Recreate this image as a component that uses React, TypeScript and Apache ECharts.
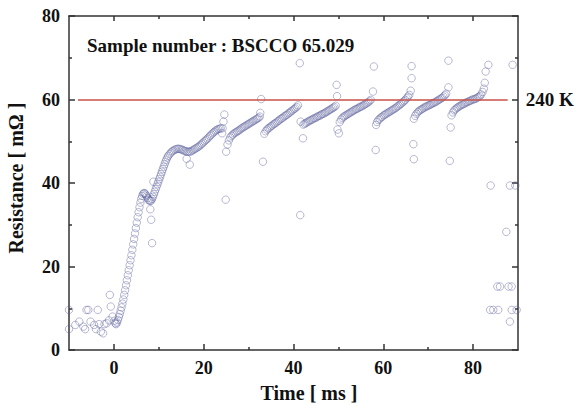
import React, { useEffect, useRef } from "react";
import * as echarts from "echarts";

// Time [ms], Resistance [mΩ]
const preTrigger: number[][] = [
  [-10, 9.6], [-10, 5.0], [-8.6, 6.0], [-7.7, 6.8], [-6.8, 5.6], [-6.4, 5.0], [-6.1, 9.6], [-5.7, 9.6],
  [-5.2, 6.8], [-4.4, 6.0], [-4.0, 5.0], [-3.6, 9.6], [-3.3, 6.2], [-2.9, 4.4], [-2.4, 4.0], [-2.1, 6.2],
  [-1.6, 6.4], [-1.1, 7.1], [-0.9, 13.2], [-0.7, 10.4], [-0.3, 8.0],
];
const riseSegment: number[][] = [
  [0.1, 7.0], [0.3, 6.4], [0.5, 6.2], [0.7, 6.6], [0.9, 7.2], [1.1, 7.9], [1.3, 8.6], [1.5, 9.4],
  [1.7, 10.2], [1.9, 11.1], [2.1, 12.1], [2.3, 13.2], [2.5, 14.3], [2.7, 15.5], [2.9, 16.7], [3.1, 17.9],
  [3.3, 19.1], [3.5, 20.3], [3.7, 21.5], [3.9, 22.7], [4.1, 24.0], [4.3, 25.3], [4.5, 26.6], [4.7, 27.9],
  [4.9, 29.2], [5.1, 30.5], [5.3, 31.8], [5.5, 33.0], [5.7, 34.2], [5.9, 35.3], [6.1, 36.2], [6.3, 36.9],
  [6.5, 37.4], [6.7, 37.6], [6.9, 37.5], [7.1, 37.2], [7.3, 36.8], [7.5, 36.4], [7.7, 36.0], [7.9, 35.8],
  [8.1, 35.7], [8.3, 35.8], [8.5, 36.2], [8.7, 36.7], [8.9, 37.3], [9.1, 37.9], [9.3, 38.5], [9.5, 39.1],
  [9.7, 39.7], [9.9, 40.3], [10.1, 40.9], [10.3, 41.5], [10.5, 42.1], [10.7, 42.7], [10.9, 43.3], [11.1, 43.9],
  [11.3, 44.5], [11.5, 45.1], [11.7, 45.6], [11.9, 46.1], [12.1, 46.5], [12.4, 46.9], [12.7, 47.3], [13.0, 47.6],
  [13.3, 47.8], [13.6, 48.0], [13.9, 48.1], [14.2, 48.2], [14.5, 48.2], [14.8, 48.1], [15.1, 48.0], [15.4, 47.9],
  [15.7, 47.7], [16.0, 47.6], [16.3, 47.5], [16.6, 47.5], [16.9, 47.5], [17.2, 47.6], [17.5, 47.8], [17.8, 48.0],
  [18.1, 48.2], [18.4, 48.4], [18.7, 48.6], [19.0, 48.8], [19.3, 49.1], [19.6, 49.4], [19.9, 49.7], [20.2, 50.0],
  [20.5, 50.3], [20.8, 50.6], [21.1, 50.9], [21.4, 51.3], [21.7, 51.6], [22.0, 51.9], [22.3, 52.2], [22.6, 52.5],
  [22.9, 52.7], [23.2, 52.9], [23.5, 53.0], [23.8, 53.1],
];
const tooth2: number[][] = [
  [25.3, 49.2], [25.6, 50.2], [25.9, 50.9], [26.2, 51.3], [26.5, 51.6], [26.8, 51.9], [27.1, 52.1], [27.4, 52.3],
  [27.7, 52.5], [28.0, 52.7], [28.3, 53.0], [28.6, 53.2], [28.9, 53.4], [29.2, 53.6], [29.5, 53.8], [29.8, 54.0],
  [30.1, 54.2], [30.4, 54.4], [30.7, 54.6], [31.0, 54.8], [31.3, 55.0], [31.6, 55.2], [31.9, 55.4], [32.2, 55.6],
  [32.5, 55.9],
];
const tooth3: number[][] = [
  [33.5, 51.8], [33.8, 52.4], [34.1, 52.8], [34.4, 53.1], [34.7, 53.3], [35.0, 53.6], [35.3, 53.8], [35.6, 54.1],
  [35.9, 54.3], [36.2, 54.5], [36.5, 54.8], [36.8, 55.0], [37.1, 55.3], [37.4, 55.5], [37.7, 55.7], [38.0, 56.0],
  [38.3, 56.2], [38.6, 56.4], [38.9, 56.7], [39.2, 56.9], [39.5, 57.2], [39.8, 57.4], [40.1, 57.7], [40.4, 57.9],
  [40.7, 58.2], [41.0, 58.6],
];
const tooth4: number[][] = [
  [42.2, 54.0], [42.5, 54.2], [42.8, 54.4], [43.1, 54.6], [43.4, 54.8], [43.7, 55.0], [44.0, 55.1], [44.3, 55.3],
  [44.6, 55.5], [44.9, 55.6], [45.2, 55.8], [45.5, 56.0], [45.8, 56.1], [46.1, 56.3], [46.4, 56.5], [46.7, 56.6],
  [47.0, 56.8], [47.3, 57.0], [47.6, 57.2], [47.9, 57.4], [48.2, 57.6], [48.5, 57.8], [48.8, 58.0], [49.1, 58.2],
  [49.4, 58.5],
];
const tooth5: number[][] = [
  [50.3, 54.6], [50.6, 55.2], [50.9, 55.6], [51.2, 55.9], [51.5, 56.1], [51.8, 56.3], [52.1, 56.5], [52.4, 56.7],
  [52.7, 56.9], [53.0, 57.1], [53.3, 57.3], [53.6, 57.5], [53.9, 57.7], [54.2, 57.8], [54.5, 58.0], [54.8, 58.2],
  [55.1, 58.3], [55.4, 58.5], [55.7, 58.7], [56.0, 58.9], [56.3, 59.1], [56.6, 59.3], [56.9, 59.6], [57.2, 59.9],
];
const tooth6: number[][] = [
  [58.4, 53.9], [58.6, 54.6], [58.9, 55.1], [59.2, 55.4], [59.5, 55.7], [59.8, 55.9], [60.1, 56.2], [60.4, 56.4],
  [60.7, 56.6], [61.0, 56.8], [61.3, 57.0], [61.6, 57.2], [61.9, 57.4], [62.2, 57.6], [62.5, 57.8], [62.8, 58.0],
  [63.1, 58.3], [63.4, 58.5], [63.7, 58.8], [64.0, 59.0], [64.3, 59.3], [64.6, 59.6], [64.9, 59.9], [65.2, 60.3],
  [65.5, 60.7], [65.8, 61.1],
];
const tooth7: number[][] = [
  [66.8, 55.4], [67.1, 56.1], [67.4, 56.6], [67.7, 57.0], [68.0, 57.3], [68.3, 57.5], [68.6, 57.7], [68.9, 57.9],
  [69.2, 58.1], [69.5, 58.3], [69.8, 58.4], [70.1, 58.6], [70.4, 58.7], [70.7, 58.9], [71.0, 59.1], [71.3, 59.2],
  [71.6, 59.4], [71.9, 59.6], [72.2, 59.8], [72.5, 60.0], [72.8, 60.2], [73.1, 60.4], [73.4, 60.7], [73.7, 61.0],
  [74.0, 61.4],
];
const tooth8: number[][] = [
  [75.2, 56.2], [75.5, 56.9], [75.8, 57.4], [76.1, 57.7], [76.4, 58.0], [76.7, 58.2], [77.0, 58.4], [77.3, 58.6],
  [77.6, 58.8], [77.9, 58.9], [78.2, 59.1], [78.5, 59.3], [78.8, 59.4], [79.1, 59.6], [79.4, 59.7], [79.7, 59.9],
  [80.0, 60.0], [80.3, 60.1], [80.6, 60.2], [80.9, 60.4], [81.2, 60.6], [81.5, 60.8], [81.8, 61.2], [82.1, 61.8],
  [82.4, 62.6], [82.6, 64.0], [82.8, 66.7], [83.4, 68.3],
];
const outliers: number[][] = [
  [8.1, 33.7], [8.3, 31.2], [8.5, 25.6], [8.8, 40.3], [16.2, 45.8], [16.9, 44.4],
  [24.1, 51.9], [24.2, 53.1], [24.4, 54.7], [24.6, 56.4], [25.0, 47.5], [24.9, 36.0],
  [32.8, 60.1], [32.6, 56.8], [33.2, 45.1],
  [41.4, 68.7], [41.6, 54.7], [42.1, 50.7], [41.5, 32.3],
  [49.6, 63.5], [49.7, 60.8], [49.8, 52.8], [50.1, 51.9],
  [57.9, 67.9], [57.7, 61.9], [58.3, 47.9],
  [66.3, 68.0], [66.3, 65.1], [66.1, 62.1], [66.7, 49.3], [66.8, 45.7],
  [74.5, 69.3], [74.5, 62.9], [75.0, 53.3], [74.8, 45.3],
];
const afterQuench: number[][] = [
  [83.9, 39.4], [88.8, 68.3], [88.2, 39.4], [89.4, 39.4], [87.4, 28.3],
  [85.4, 15.2], [86.0, 15.2], [87.9, 15.2], [88.6, 15.2],
  [83.8, 9.6], [84.5, 9.6], [85.6, 9.6], [88.6, 9.6], [89.7, 9.6], [88.2, 6.8],
];

const refLine: number[][] = [[-8, 60], [87.7, 60]];
const refLabel = "240 K";
const xMajorTicks = [0, 20, 40, 60, 80];
const xMinorTicks = [10, 30, 50, 70];
const sampleText = "Sample number : BSCCO 65.029";

const FONT = "'Liberation Serif', 'Times New Roman', serif";
const AXIS_COLOR = "#333";

export default function App() {
  const ref = useRef<HTMLDivElement>(null);
  useEffect(() => {
    if (!ref.current) return;
    const chart = echarts.init(ref.current, undefined, { renderer: "svg" });
    const allPoints = [
      ...preTrigger, ...riseSegment, ...tooth2, ...tooth3, ...tooth4, ...tooth5,
      ...tooth6, ...tooth7, ...tooth8, ...outliers, ...afterQuench,
    ];
    const lineStyle = { color: AXIS_COLOR, width: 1.5 };
    const labelStyle = { fontFamily: FONT, fontWeight: "bold" as const, fontSize: 18, color: "#111" };
    const xBase = { type: "value" as const, min: -10, max: 90, gridIndex: 0, splitLine: { show: false } };
    chart.setOption({
      animation: false,
      backgroundColor: "#fff",
      grid: { left: 69, right: 61, top: 16, bottom: 56, containLabel: false },
      xAxis: [
        {
          ...xBase, position: "bottom",
          axisLine: { show: true, onZero: false, lineStyle },
          axisTick: { show: true, inside: true, length: 6, customValues: xMajorTicks, lineStyle },
          axisLabel: { ...labelStyle, margin: 9, customValues: xMajorTicks },
        },
        {
          ...xBase, position: "bottom",
          axisLine: { show: false, onZero: false },
          axisTick: { show: true, inside: true, length: 3, customValues: xMinorTicks, lineStyle },
          axisLabel: { show: false },
        },
        {
          ...xBase, position: "top",
          axisLine: { show: true, onZero: false, lineStyle },
          axisTick: { show: true, inside: true, length: 5, customValues: xMajorTicks, lineStyle },
          axisLabel: { show: false },
        },
        {
          ...xBase, position: "top",
          axisLine: { show: false, onZero: false },
          axisTick: { show: true, inside: true, length: 3, customValues: xMinorTicks, lineStyle },
          axisLabel: { show: false },
        },
      ],
      yAxis: [
        {
          type: "value", min: 0, max: 80, interval: 20, position: "left",
          axisLine: { show: true, onZero: false, lineStyle },
          axisTick: { show: true, inside: true, length: 6, lineStyle },
          minorTick: { show: true, splitNumber: 2, length: 3, lineStyle },
          axisLabel: { ...labelStyle, margin: 9 },
          splitLine: { show: false },
          minorSplitLine: { show: false },
        },
        {
          type: "value", min: 0, max: 80, interval: 20, position: "right",
          axisLine: { show: true, onZero: false, lineStyle },
          axisTick: { show: true, inside: true, length: 6, lineStyle },
          minorTick: { show: true, splitNumber: 2, length: 3, lineStyle },
          axisLabel: { show: false },
          splitLine: { show: false },
          minorSplitLine: { show: false },
        },
      ],
      series: [
        {
          type: "scatter",
          xAxisIndex: 0,
          yAxisIndex: 0,
          symbol: "circle",
          symbolSize: 7.5,
          itemStyle: { color: "rgba(0,0,0,0)", borderColor: "rgba(90,95,155,0.55)", borderWidth: 1 },
          data: allPoints,
          markLine: {
            silent: true,
            symbol: "none",
            lineStyle: { color: "#c8504a", width: 1.5, type: "solid" },
            label: {
              show: true, position: "end", formatter: refLabel, distance: 18,
              fontFamily: FONT, fontWeight: "bold", fontSize: 19, color: "#111",
            },
            data: [[{ coord: refLine[0] }, { coord: refLine[1] }]],
          },
        },
      ],
      graphic: [
        {
          type: "text", x: 87, y: 45,
          style: { text: sampleText, font: `bold 19px ${FONT}`, fill: "#111", textVerticalAlign: "middle", textAlign: "left" },
        },
        {
          type: "text", x: 309, y: 393,
          style: { text: "Time [ ms ]", font: `bold 20px ${FONT}`, fill: "#111", textVerticalAlign: "middle", textAlign: "center" },
        },
        {
          type: "text", x: 16, y: 178, rotation: Math.PI / 2,
          style: { text: "Resistance [ mΩ ]", font: `bold 20px ${FONT}`, fill: "#111", textVerticalAlign: "middle", textAlign: "center" },
        },
      ],
    });
    return () => chart.dispose();
  }, []);
  return <div ref={ref} style={{ position: "fixed", left: 0, top: 0, width: 579, height: 406, background: "#fff" }} />;
}
